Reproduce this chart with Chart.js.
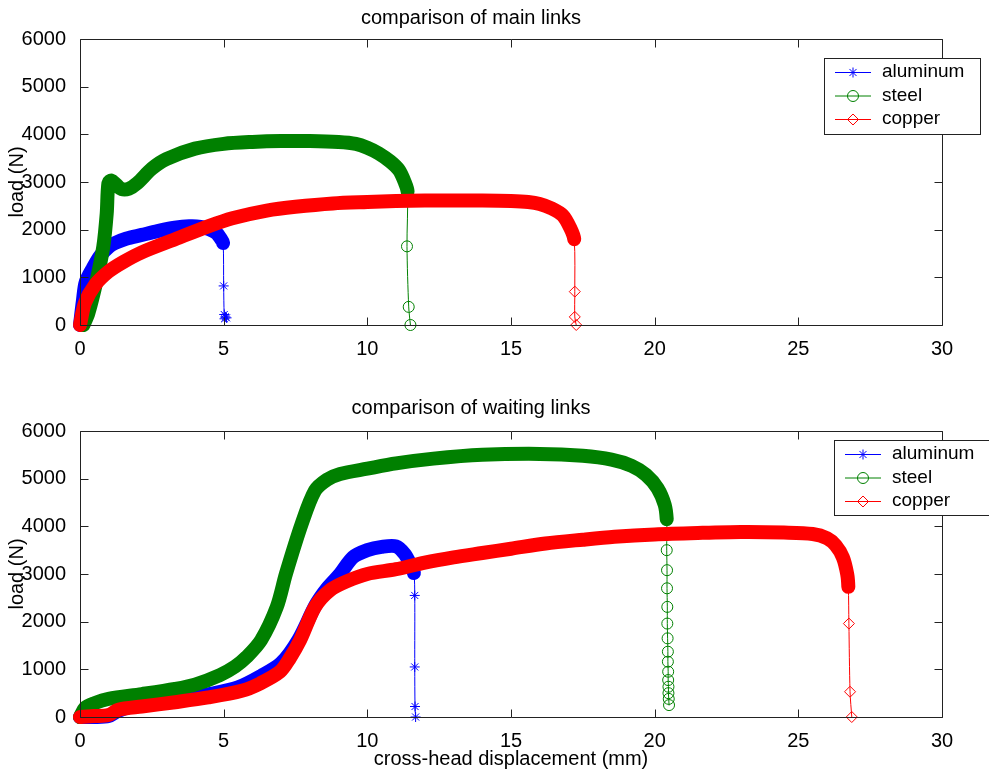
<!DOCTYPE html>
<html>
<head>
<meta charset="utf-8">
<title>comparison of main and waiting links</title>
<script src="https://cdn.jsdelivr.net/npm/chart.js@4"></script>
<style>
  body { margin: 0; background: #fff; }
  canvas { display: block; }
</style>
</head>
<body>
<canvas id="mainChart" width="989" height="386"></canvas>
<canvas id="waitChart" width="989" height="386"></canvas>
<script>
const materials = ['aluminum', 'steel', 'copper'];
const xTicks = [0, 5, 10, 15, 20, 25, 30];
const yTicks = [0, 1000, 2000, 3000, 4000, 5000, 6000];

// main links (top plot)
const mainAluminumX = [0, 0.1, 0.2, 0.45, 0.7, 1.0, 1.22, 1.6, 2.15, 2.7, 3.3, 3.8, 4.2, 4.5, 4.75, 4.9, 4.98, 5.0, 5.02, 5.06, 5.1, 5.03];
const mainAluminumY = [0, 500, 900, 1200, 1450, 1640, 1720, 1810, 1890, 1970, 2040, 2070, 2060, 2010, 1930, 1810, 1720, 820, 220, 170, 150, 130];
const mainSteelX = [0.12, 0.29, 0.58, 0.81, 0.93, 0.99, 1.1, 1.25, 1.45, 1.7, 2.0, 2.5, 3.0, 4.0, 5.0, 6.0, 7.0, 8.0, 9.0, 9.6, 10.0, 10.4, 10.8, 11.1, 11.3, 11.4, 11.38, 11.44, 11.5];
const mainSteelY = [0, 245, 940, 1640, 2340, 2980, 3030, 2950, 2850, 2860, 2980, 3280, 3480, 3700, 3800, 3840, 3860, 3860, 3840, 3800, 3720, 3600, 3430, 3250, 3000, 2800, 1650, 380, 0];
const mainCopperX = [0, 0.17, 0.52, 0.99, 1.5, 2.15, 3.31, 4.46, 5.3, 6.5, 7.5, 8.8, 10.0, 11.0, 12.0, 13.0, 14.0, 15.0, 15.6, 16.0, 16.4, 16.8, 17.05, 17.2, 17.22, 17.22, 17.27];
const mainCopperY = [0, 460, 840, 1120, 1320, 1525, 1800, 2070, 2240, 2400, 2480, 2550, 2580, 2600, 2610, 2610, 2610, 2600, 2580, 2540, 2450, 2300, 2050, 1800, 700, 170, 0];

// waiting links (bottom plot)
const waitAluminumX = [0, 0.5, 1.0, 1.3, 1.8, 2.5, 3.5, 4.5, 5.5, 6.3, 7.0, 7.6, 8.2, 8.6, 9.05, 9.5, 10.0, 10.5, 11.0, 11.3, 11.5, 11.62, 11.65, 11.65, 11.66, 11.68];
const waitAluminumY = [0, 0, 20, 120, 220, 290, 380, 480, 620, 860, 1130, 1620, 2350, 2700, 3000, 3350, 3500, 3570, 3580, 3420, 3200, 3020, 2550, 1050, 220, 0];
const waitSteelX = [0, 0.17, 0.5, 0.99, 2.15, 3.31, 4.0, 4.87, 5.4, 5.8, 6.3, 6.85, 7.17, 7.72, 8.18, 8.6, 9.05, 10.0, 11.0, 12.3, 14.0, 16.0, 17.5, 18.5, 19.2, 19.7, 20.1, 20.35, 20.42, 20.42, 20.42, 20.43, 20.43, 20.44, 20.44, 20.45, 20.46, 20.46, 20.47, 20.47, 20.48, 20.48, 20.49, 20.5];
const waitSteelY = [0, 190, 290, 380, 480, 590, 680, 880, 1060, 1260, 1610, 2310, 3010, 4060, 4750, 4980, 5100, 5210, 5320, 5420, 5500, 5520, 5480, 5400, 5270, 5080, 4800, 4450, 4150, 3850, 3500, 3080, 2700, 2310, 1960, 1650, 1370, 1160, 950, 775, 635, 500, 380, 250];
const waitCopperX = [0, 0.5, 0.99, 1.33, 2.15, 3.31, 4.46, 5.63, 6.27, 6.96, 7.3, 7.66, 8.18, 8.7, 9.3, 10.0, 11.0, 12.0, 13.0, 14.0, 15.0, 16.2, 17.5, 18.6, 20.0, 21.5, 23.0, 24.5, 25.5, 26.0, 26.3, 26.55, 26.7, 26.74, 26.76, 26.8, 26.86];
const waitCopperY = [0, 20, 40, 150, 220, 310, 410, 550, 705, 950, 1230, 1610, 2310, 2660, 2850, 3000, 3100, 3240, 3350, 3440, 3530, 3640, 3720, 3780, 3830, 3860, 3880, 3870, 3840, 3750, 3600, 3350, 3000, 2730, 1960, 530, 0];

const seriesStyle = {
  aluminum: { color: '#0000ff', marker: 'star', radius: 5 },
  steel: { color: '#008000', marker: 'circle', radius: 5.5 },
  copper: { color: '#ff0000', marker: 'rectRot', radius: 5.5 }
};
const bandWidth = 14;
const fontFamily = "'Liberation Sans', Arial, sans-serif";

Chart.defaults.font.family = fontFamily;
Chart.defaults.color = '#000';

function toPoints(xs, ys) {
  return xs.map((x, i) => ({ x: x, y: ys[i] }));
}

// the dense part of each curve is drawn as a thick band, the failure drop as a thin line with markers
function makeDataset(name, xs, ys, denseCount, order) {
  const st = seriesStyle[name];
  return {
    label: name,
    data: toPoints(xs, ys),
    order: order,
    clip: false,
    tension: 0.3,
    borderColor: st.color,
    backgroundColor: 'rgba(0,0,0,0)',
    borderJoinStyle: 'round',
    borderCapStyle: 'round',
    pointStyle: st.marker,
    pointBorderColor: st.color,
    pointBackgroundColor: 'rgba(0,0,0,0)',
    pointBorderWidth: 1,
    pointRadius: ctx => ctx.dataIndex >= denseCount - 1 ? st.radius : 0,
    segment: {
      borderWidth: ctx => ctx.p1DataIndex < denseCount ? bandWidth : 1
    }
  };
}

const matlabFrame = {
  id: 'matlabFrame',
  afterDatasetsDraw(chart) {
    const { ctx, chartArea: a, scales: { x, y } } = chart;
    const len = 8;
    const L = Math.round(a.left) + 0.5, R = Math.round(a.right) + 0.5;
    const T = Math.round(a.top) + 0.5, B = Math.round(a.bottom) + 0.5;
    ctx.save();
    ctx.strokeStyle = '#222';
    ctx.lineWidth = 1;
    ctx.beginPath();
    ctx.rect(L, T, R - L, B - T);
    xTicks.forEach(v => {
      const px = Math.round(x.getPixelForValue(v)) + 0.5;
      ctx.moveTo(px, B); ctx.lineTo(px, B - len);
      ctx.moveTo(px, T); ctx.lineTo(px, T + len);
    });
    yTicks.forEach(v => {
      const py = Math.round(y.getPixelForValue(v)) + 0.5;
      ctx.moveTo(L, py); ctx.lineTo(L + len, py);
      ctx.moveTo(R, py); ctx.lineTo(R - len, py);
    });
    ctx.stroke();
    ctx.restore();
  }
};

const matlabLegend = {
  id: 'matlabLegend',
  afterDraw(chart, args, opts) {
    const ctx = chart.ctx;
    const b = opts.box;
    ctx.save();
    ctx.fillStyle = '#fff';
    ctx.fillRect(b.left, b.top, b.width, b.height);
    ctx.strokeStyle = '#222';
    ctx.lineWidth = 1;
    ctx.strokeRect(b.left + 0.5, b.top + 0.5, b.width, b.height);
    ctx.font = '19px ' + fontFamily;
    ctx.textBaseline = 'middle';
    ctx.textAlign = 'left';
    materials.forEach((name, i) => {
      const st = seriesStyle[name];
      const y = b.top + opts.rows[i];
      ctx.strokeStyle = st.color;
      ctx.beginPath();
      ctx.moveTo(b.left + 11, y + 0.5);
      ctx.lineTo(b.left + 47, y + 0.5);
      ctx.stroke();
      ctx.fillStyle = 'rgba(0,0,0,0)';
      Chart.helpers.drawPoint(ctx, { pointStyle: st.marker, radius: st.radius, borderWidth: 1, rotation: 0 }, b.left + 29, y + 0.5);
      ctx.fillStyle = '#000';
      ctx.fillText(name, b.left + 58, y);
    });
    ctx.restore();
  }
};

function makeChart(id, title, datasets, opt) {
  return new Chart(document.getElementById(id), {
    type: 'line',
    data: { datasets: datasets },
    plugins: [matlabFrame, matlabLegend],
    options: {
      responsive: false,
      animation: false,
      devicePixelRatio: 1,
      layout: { padding: { left: 0, right: 47, top: 0, bottom: 0 } },
      plugins: {
        legend: { display: false },
        tooltip: { enabled: false },
        title: {
          display: true,
          text: title,
          color: '#000',
          font: { size: 20, weight: 'normal' },
          padding: opt.titlePadding
        },
        matlabLegend: { box: opt.legendBox, rows: [14, 37.5, 61] }
      },
      scales: {
        x: {
          type: 'linear',
          min: xTicks[0],
          max: xTicks[xTicks.length - 1],
          afterBuildTicks: s => { s.ticks = xTicks.map(v => ({ value: v })); },
          afterFit: s => { s.height = opt.xHeight; },
          grid: { display: false },
          border: { display: false },
          ticks: { font: { size: 20 }, color: '#000', padding: 4.5, maxRotation: 0, callback: v => String(v) },
          title: {
            display: !!opt.xTitle,
            text: opt.xTitle || '',
            color: '#000',
            font: { size: 20 },
            padding: { top: 0, bottom: 0.5 }
          }
        },
        y: {
          type: 'linear',
          min: yTicks[0],
          max: yTicks[yTicks.length - 1],
          afterBuildTicks: s => { s.ticks = yTicks.map(v => ({ value: v })); },
          afterFit: s => { s.width = 80; },
          grid: { display: false },
          border: { display: false },
          ticks: { font: { size: 20 }, color: '#000', padding: 6, callback: v => String(v) },
          title: {
            display: true,
            text: 'load (N)',
            color: '#000',
            font: { size: 20 },
            padding: { top: 5, bottom: 0 }
          }
        }
      }
    }
  });
}

makeChart('mainChart', 'comparison of main links', [
  makeDataset('aluminum', mainAluminumX, mainAluminumY, 17, 2),
  makeDataset('steel', mainSteelX, mainSteelY, 26, 1),
  makeDataset('copper', mainCopperX, mainCopperY, 24, 0)
], {
  titlePadding: { top: 6, bottom: 9 },
  xHeight: 61,
  legendBox: { left: 824, top: 58, width: 156, height: 76 }
});

makeChart('waitChart', 'comparison of waiting links', [
  makeDataset('aluminum', waitAluminumX, waitAluminumY, 22, 2),
  makeDataset('steel', waitSteelX, waitSteelY, 29, 1),
  makeDataset('copper', waitCopperX, waitCopperY, 34, 0)
], {
  titlePadding: { top: 10, bottom: 11 },
  xHeight: 55,
  xTitle: 'cross-head displacement (mm)',
  legendBox: { left: 834, top: 54, width: 156, height: 75 }
});
</script>
</body>
</html>
